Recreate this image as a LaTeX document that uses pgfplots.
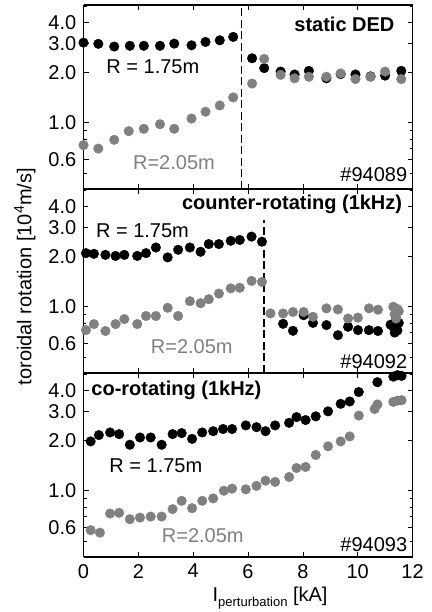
\documentclass[border=0pt]{standalone}
\usepackage{pgfplots}
\pgfplotsset{compat=1.18}
\usepackage{fontspec}
\setmainfont{Liberation Sans}
\definecolor{mgray}{RGB}{128,128,128}
\newcommand{\fs}{\fontsize{20}{24}\selectfont}
\tikzset{vdash/.style={line width=1.5pt, dash pattern=on 8pt off 3.5pt}}
\pgfplotsset{
  mypanel/.style={
    scale only axis, width=329pt, height=184pt,
    xmin=0, xmax=12, ymin=0.4, ymax=5.1,
    xtick={0,2,...,12}, ytick={0.6,1,2,3,4},
    yticklabels={0.6,1.0,2.0,3.0,4.0},
    minor ytick={0.5,0.7,0.8,0.9,5},
    tick align=inside, tick pos=both,
    major tick length=5pt, minor tick length=3pt,
    tick style={black, line width=0.6pt},
    axis line style={draw=none},
    tick label style={font=\fs},
    /pgf/number format/assume math mode=true,
    yticklabel style={anchor=east, inner sep=0pt, xshift=-7pt},
    xticklabel style={anchor=north, inner sep=0pt, yshift=-7pt},
    clip=false,
  },
  bk/.style={only marks, mark=*, mark size=4.8pt, mark options={draw=black, fill=black}},
  gr/.style={only marks, mark=*, mark size=4.8pt, mark options={draw=mgray, fill=mgray}},
}
\newcommand{\frameit}{%
  \draw[line width=1.6pt] (rel axis cs:0,0) -- (rel axis cs:1,0);
  \draw[line width=1.6pt] (rel axis cs:0,1) -- (rel axis cs:1,1);
  \draw[line width=1.6pt] (rel axis cs:0,0) -- (rel axis cs:0,1);
  \draw[line width=0.7pt] (rel axis cs:1,0) -- (rel axis cs:1,1);
}
\begin{document}
\begin{tikzpicture}
% ---------- panel 1 : static DED ----------
\begin{axis}[ymode=log, mypanel, at={(0pt,368pt)}, anchor=south west, xticklabels={}]
\addplot[bk] coordinates {
(0,3.03) (0.54,2.98) (1.12,2.87) (1.69,2.90) (2.2,2.90) (2.79,2.90)
(3.31,2.99) (3.94,2.92) (4.45,3.06) (4.97,3.13) (5.46,3.28)
(6.15,2.44) (6.59,2.13) (7.19,2.03) (7.7,1.95) (8.22,2.05) (8.86,1.85)
(9.38,1.96) (9.92,1.95) (10.47,1.90) (11.0,1.92) (11.59,2.05)};
\addplot[gr] coordinates {
(0,0.734) (0.54,0.70) (1.12,0.79) (1.65,0.89) (2.2,0.92) (2.79,0.98)
(3.31,0.92) (3.94,1.06) (4.45,1.165) (4.97,1.27) (5.46,1.42)
(6.15,1.72) (6.59,2.42) (7.19,1.94) (7.7,1.85) (8.22,1.89) (8.86,1.89)
(9.38,1.98) (9.92,1.83) (10.47,1.89) (11.0,2.03) (11.59,1.83)};
\draw[vdash] (axis cs:5.76,0.4) -- (axis cs:5.76,5.1);
\node[anchor=east, font=\fs\bfseries] at (axis cs:11.47,3.89) {static DED};
\node[font=\fs] at (axis cs:2.53,2.17) {R = 1.75m};
\node[font=\fs, text=mgray] at (axis cs:3.3,0.58) {R=2.05m};
\node[anchor=east, font=\fs, inner sep=1pt] at (axis cs:11.85,0.487) {\#94089};
\frameit
\end{axis}
% ---------- panel 2 : counter-rotating ----------
\begin{axis}[ymode=log, mypanel, at={(0pt,184pt)}, anchor=south west, xticklabels={}]
\addplot[bk] coordinates {
(0.09,2.10) (0.38,2.08) (0.8,2.05) (1.17,2.02) (1.49,2.05) (1.96,2.02)
(2.28,2.10) (2.64,2.27) (3.07,1.98) (3.45,2.20) (3.88,2.27) (4.27,2.14)
(4.57,2.38) (4.94,2.38) (5.37,2.49) (5.7,2.52) (6.13,2.64) (6.51,2.46)
(7.28,0.79) (7.64,0.717) (8.03,0.89) (8.37,0.80) (8.86,0.776) (9.28,0.675)
(9.65,0.758) (10.01,0.724) (10.41,0.724) (10.74,0.715)
(11.2,0.78) (11.3,0.76) (11.4,0.85) (11.45,0.72) (11.5,0.80) (11.35,0.70)};
\addplot[gr] coordinates {
(0.09,0.724) (0.38,0.787) (0.8,0.715) (1.17,0.787) (1.49,0.843) (1.96,0.787)
(2.28,0.88) (2.64,0.88) (3.07,0.986) (3.45,0.88) (3.88,1.08) (4.27,1.05)
(4.57,1.11) (4.94,1.20) (5.37,1.29) (5.7,1.30) (6.13,1.43) (6.51,1.41)
(6.82,0.912) (7.28,0.912) (7.64,0.93) (8.03,0.93) (8.37,0.87) (8.86,0.978)
(9.28,0.964) (9.65,0.85) (10.01,0.86) (10.41,0.978) (10.74,0.96)
(11.3,1.0) (11.45,0.97) (11.35,0.90) (11.4,0.85) (11.5,0.94)};
\draw[vdash] (axis cs:6.58,0.4) -- (axis cs:6.58,3.3);
\node[anchor=east, font=\fs\bfseries] at (axis cs:11.75,4.1) {counter-rotating (1kHz)};
\node[font=\fs] at (axis cs:2.15,2.86) {R = 1.75m};
\node[font=\fs, text=mgray] at (axis cs:3.95,0.58) {R=2.05m};
\node[anchor=east, font=\fs, inner sep=1pt] at (axis cs:11.85,0.467) {\#94092};
\node[rotate=90, font=\fs] at (rel axis cs:-0.178,0.524) {toroidal rotation [10\textsuperscript{4}m/s]};
\frameit
\end{axis}
% ---------- panel 3 : co-rotating ----------
\begin{axis}[ymode=log, mypanel, at={(0pt,0pt)}, anchor=south west]
\addplot[bk] coordinates {
(0.26,1.98) (0.56,2.16) (0.97,2.24) (1.3,2.19) (1.69,1.89) (2.06,2.09)
(2.45,2.09) (2.85,1.89) (3.25,2.19) (3.58,2.22) (3.96,2.05) (4.33,2.24)
(4.73,2.28) (5.09,2.35) (5.42,2.35) (5.92,2.47) (6.31,2.41) (6.64,2.28)
(6.99,2.47) (7.5,2.56) (7.77,2.77) (8.1,2.66) (8.47,2.80) (8.92,3.0)
(9.38,3.33) (9.71,3.44) (10.04,3.92) (10.72,4.49) (11.3,4.85) (11.45,4.95) (11.6,4.9)};
\addplot[gr] coordinates {
(0.26,0.58) (0.6,0.56) (0.97,0.73) (1.3,0.737) (1.69,0.675) (2.06,0.69)
(2.45,0.70) (2.85,0.70) (3.25,0.776) (3.58,0.87) (3.96,0.786) (4.33,0.87)
(4.73,0.90) (5.12,1.0) (5.42,1.03) (5.92,1.02) (6.31,1.07) (6.64,1.15)
(6.99,1.13) (7.5,1.21) (7.77,1.37) (8.1,1.39) (8.47,1.64) (8.92,1.85)
(9.38,1.98) (9.71,2.12) (10.04,2.83) (10.62,3.1) (10.72,3.3)
(11.3,3.42) (11.45,3.48) (11.6,3.5)};
\node[anchor=west, font=\fs\bfseries] at (axis cs:0.16,4.0) {co-rotating (1kHz)};
\node[font=\fs] at (axis cs:2.64,1.41) {R = 1.75m};
\node[font=\fs, text=mgray] at (axis cs:4.35,0.536) {R=2.05m};
\node[anchor=east, font=\fs, inner sep=1pt] at (axis cs:11.85,0.473) {\#94093};
\node[font=\fs] at (rel axis cs:0.567,-0.224) {I\raisebox{-0.45ex}{\fontsize{13}{15}\selectfont perturbation} [kA]};
\frameit
\end{axis}
\pgfresetboundingbox
\path[use as bounding box] (-83.5pt,-55pt) rectangle (347.5pt,557pt);
\end{tikzpicture}
\end{document}
